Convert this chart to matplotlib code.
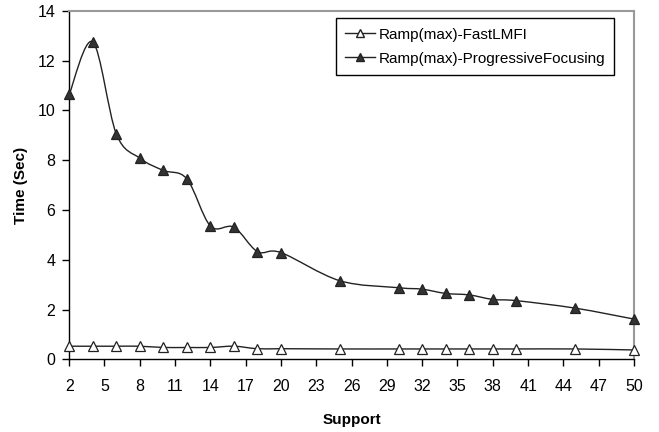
import matplotlib.pyplot as plt
import numpy as np
from matplotlib.path import Path
from matplotlib.patches import PathPatch
from matplotlib.lines import Line2D

plt.rcParams['font.family'] = ['Liberation Sans', 'DejaVu Sans']

# --- Data ---
support = [2, 4, 6, 8, 10, 12, 14, 16, 18, 20, 25, 30, 32, 34, 36, 38, 40, 45, 50]
fast_lmfi = [0.53, 0.53, 0.53, 0.53, 0.48, 0.48, 0.48, 0.53, 0.43, 0.43,
             0.42, 0.42, 0.42, 0.42, 0.42, 0.42, 0.42, 0.42, 0.38]
prog_focus = [10.64, 12.75, 9.06, 8.08, 7.59, 7.25, 5.36, 5.31, 4.33, 4.29,
              3.16, 2.88, 2.82, 2.65, 2.59, 2.41, 2.36, 2.06, 1.62]
xticks = list(range(2, 51, 3))
yticks = list(range(0, 15, 2))


def smooth_path(x, y):
    # Excel-style smoothed line: cubic bezier segments through each point
    x = np.asarray(x, float)
    y = np.asarray(y, float)
    n = len(x)
    verts = [(x[0], y[0])]
    codes = [Path.MOVETO]
    for i in range(n - 1):
        i0 = max(i - 1, 0)
        i3 = min(i + 2, n - 1)
        c1 = (x[i] + (x[i + 1] - x[i0]) / 6, y[i] + (y[i + 1] - y[i0]) / 6)
        c2 = (x[i + 1] - (x[i3] - x[i]) / 6, y[i + 1] - (y[i3] - y[i]) / 6)
        verts += [c1, c2, (x[i + 1], y[i + 1])]
        codes += [Path.CURVE4] * 3
    return Path(verts, codes)


fig = plt.figure(figsize=(6.59, 4.32), dpi=100)
ax = fig.add_axes([0.105, 0.168, 0.857, 0.807])

for ys, face in [(fast_lmfi, 'white'), (prog_focus, '#333333')]:
    ax.add_patch(PathPatch(smooth_path(support, ys), facecolor='none',
                           edgecolor='#222222', lw=1.0, zorder=2))
    ax.plot(support, ys, linestyle='none', marker='^', markersize=7.5,
            markerfacecolor=face, markeredgecolor='#222222',
            markeredgewidth=0.9, zorder=3, clip_on=False)

ax.set_xlim(2, 50)
ax.set_ylim(0, 14)
ax.set_xticks(xticks)
ax.set_yticks(yticks)
ax.tick_params(labelsize=11.5, length=5, width=1, color='black')
ax.tick_params(axis='x', pad=9)
ax.tick_params(axis='y', pad=5)

for side in ['top', 'right']:
    ax.spines[side].set_color('#999999')
    ax.spines[side].set_linewidth(1.5)
for side in ['left', 'bottom']:
    ax.spines[side].set_color('black')
    ax.spines[side].set_linewidth(1)

ax.set_xlabel('Support', fontsize=11, fontweight='bold', labelpad=14)
ax.set_ylabel('Time (Sec)', fontsize=11, fontweight='bold', labelpad=7)

handles = [
    Line2D([], [], color='#222222', lw=1, marker='^', markersize=6,
           markerfacecolor='white', markeredgecolor='#222222'),
    Line2D([], [], color='#222222', lw=1, marker='^', markersize=6,
           markerfacecolor='#333333', markeredgecolor='#222222'),
]
leg = ax.legend(handles, ['Ramp(max)-FastLMFI', 'Ramp(max)-ProgressiveFocusing'],
                loc='upper right', bbox_to_anchor=(0.965, 0.978), fontsize=11,
                fancybox=False, framealpha=1, edgecolor='black',
                handlelength=2.0, handletextpad=0.2, borderpad=0.6,
                borderaxespad=0, labelspacing=0.65)
leg.get_frame().set_linewidth(1)

fig.savefig('out.png', dpi=100)
